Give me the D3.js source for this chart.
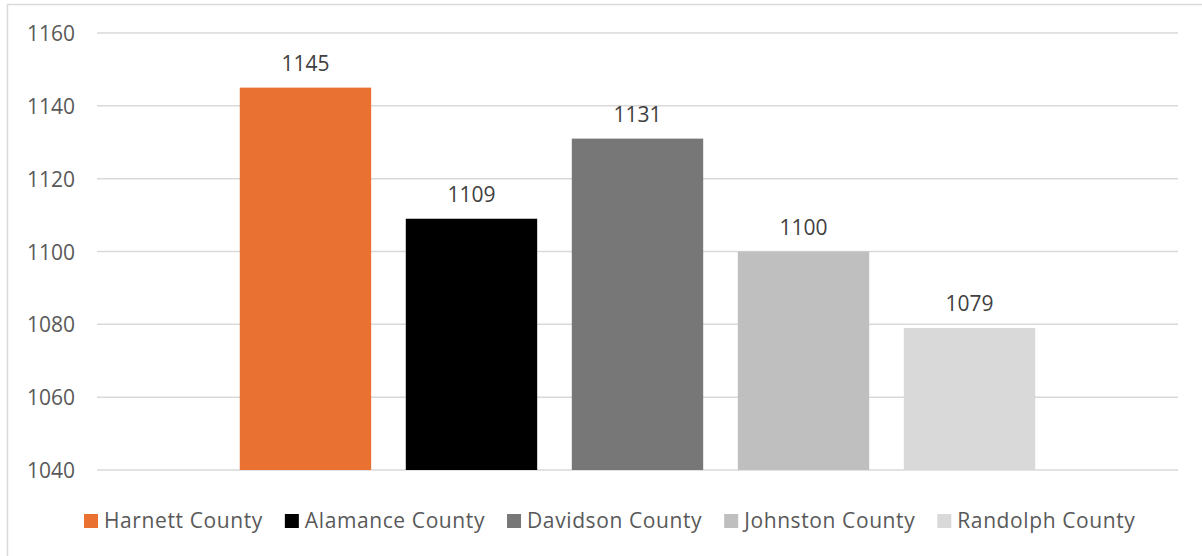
<!DOCTYPE html>
<html>
<head>
<meta charset="utf-8">
<script src="https://cdn.jsdelivr.net/npm/d3@7"></script>
<style>
  html, body { margin: 0; padding: 0; background: #fff; }
  svg { display: block; }
  text { font-family: "Open Sans", "Liberation Sans", sans-serif; }
</style>
</head>
<body>
<svg id="chart" width="1202" height="556"></svg>
<script>
const series = ["Harnett County", "Alamance County", "Davidson County", "Johnston County", "Randolph County"];
const values = [1145, 1109, 1131, 1100, 1079];
const colors = ["#E97132", "#000000", "#777777", "#BFBFBF", "#D9D9D9"];
const yTicks = [1040, 1060, 1080, 1100, 1120, 1140, 1160];

const W = 1202, H = 556;
const plot = { left: 97, right: 1178, top: 33, bottom: 470 };
const svg = d3.select("#chart");

svg.append("rect")
  .attr("x", 7.5).attr("y", 4.5)
  .attr("width", W).attr("height", H)
  .attr("fill", "#fff").attr("stroke", "#D9D9D9").attr("stroke-width", 1.5);

const y = d3.scaleLinear().domain([1040, 1160]).range([plot.bottom, plot.top]);
const x = d3.scaleBand().domain(series).range([plot.left, plot.right])
  .paddingInner(0.2086).paddingOuter(0.86);

// gridlines
svg.append("g").selectAll("line").data(yTicks).join("line")
  .attr("x1", plot.left).attr("x2", plot.right)
  .attr("y1", d => y(d)).attr("y2", d => y(d))
  .attr("stroke", "#D9D9D9").attr("stroke-width", 1.5);

// y axis labels
const yAxis = d3.axisLeft(y).tickValues(yTicks).tickSize(0).tickPadding(0).tickFormat(d3.format("d"));
const ya = svg.append("g").attr("transform", "translate(75,0)").call(yAxis);
ya.select(".domain").remove();
ya.selectAll("text").attr("fill", "#595959").style("font-size", "21px")
  .style("font-family", "'Open Sans', sans-serif").attr("dy", "0.36em");

// bars
const data = series.map((s, i) => ({ s, v: values[i], c: colors[i] }));
svg.append("g").selectAll("rect").data(data).join("rect")
  .attr("x", d => x(d.s)).attr("width", x.bandwidth())
  .attr("y", d => y(d.v)).attr("height", d => y(1040) - y(d.v))
  .attr("fill", d => d.c);

// data labels
svg.append("g").selectAll("text").data(data).join("text")
  .attr("x", d => x(d.s) + x.bandwidth() / 2)
  .attr("y", d => y(d.v) - 17)
  .attr("text-anchor", "middle")
  .attr("fill", "#404040").style("font-size", "21px")
  .text(d => d.v);

// legend
const lg = svg.append("g");
let lx = 84;
data.forEach(d => {
  lg.append("rect").attr("x", lx).attr("y", 514).attr("width", 14).attr("height", 14).attr("fill", d.c);
  const t = lg.append("text").attr("x", lx + 20).attr("y", 528)
    .attr("fill", "#595959").style("font-size", "21px").style("letter-spacing", "0.6px")
    .text(d.s);
  lx += 20 + t.node().getComputedTextLength() + 22;
});
</script>
</body>
</html>
